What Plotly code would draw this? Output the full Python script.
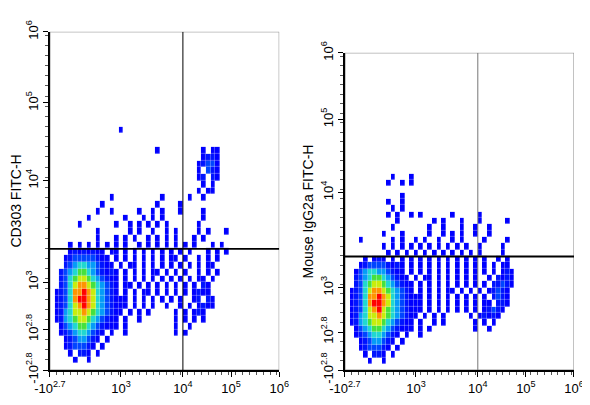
import numpy as np
import plotly.graph_objects as go

# density grid (rows listed from top, '.' = no events, 1..9 = density level)
# each cell spans 2 display units on a 0-100 biexponential display scale
left_rows = {
    35: "...............1",
    32: ".......................1.........1.11",
    31: ".................................1221",
    30: "................................12331",
    29: "................................1.321",
    28: "................................12.21",
    27: ".................................1.1",
    26: "................................1.11",
    25: ".............1..........1.....1..1",
    24: "...........1...........1....1......",
    23: "..........1..1.....1..1.1...1....1",
    22: "........1.......1...1.1.1........1.",
    21: "......1.......1..1.1.1.1.1......1...",
    20: "..........1......1.1..1..1.1....1.1...1",
    19: "..........1...1.1.1..1.1.1.1...1.1",
    18: "....1.1.1.1.1.1.1..1.1.1.1.1.1.1...1.1",
    17: "....12121211.11.1.1.1.1.1.1.1.1...1.1.1",
    16: "...1233333211.1.1.1.1.1.1.11.1..1.1.1",
    15: "...23455443211.1.11.1.1.1.1.1.1.1.11",
    14: "..2345665432121.1.1.1.11.1.1.1..1.1.1",
    13: "..2356776543211.1.1.1.1.1.1.1.1.11.1",
    12: "..2357887654321.11.1.1.1.1.1.1.1.21",
    11: ".12358898754321.1.1.11.1.1.1.1.1211",
    10: ".1235899875432111.1.1.1.1.1.1..12.21",
    9:  ".1235789875432111.1.1.1..1..1.1.1211",
    8:  ".124577876543211.1.1.1.....1.1.121",
    7:  ".12456776543211.1..1.......1.1.1.1",
    6:  "..1345665432111.1..........1..1",
    5:  "..1234554321.1..1..........1.1",
    4:  "...12344321.1",
    3:  "...1233321.1",
    2:  "....1.221.1",
    1:  ".....1..1",
}
right_rows = {
    30: "..........1...1",
    29: ".........1..1.1",
    27: "............1",
    26: ".........1..1.",
    25: "..........1.1",
    24: ".........1.1..1.1......1.....1",
    23: "...........1.......1.1...1...1.....1",
    22: "..........1.......1..1...1..1..1",
    21: "........1...1.....1..1.1.1..1..1",
    20: "...1......1.1..1.1..1..1.1....1....1",
    19: "........1.1.1.1.1.1.1.1.1.1..1....1",
    18: ".........1.1.1.1.1.1.1.1.1.1.1....1",
    17: "....1.121.1.1.1.1.1.1.1.1.1.1.1..1.1",
    16: "...1233332121.1.1.1.1.1.1.1.1.1.1.11",
    15: "..13455443211.1.1.1.1.1.1.1.1.1.1.121",
    14: "..234566543211.1.11.1.1.1.1.1..1.2121",
    13: "..2356776543211.1.1.1.1.1.1.1.1.22321",
    12: ".12357887654321.1.1.1.11.1.1.1.12321",
    11: ".1235889875432111.1.1.1.1.1.1.1.2321",
    10: ".1235899875432111.1.1.1.1.1.1.11.221",
    9:  ".1235789765432111.1.1.1.1.1.1.12321",
    8:  ".124577876543211.1.1.1.....1.12121",
    7:  ".12456776543211.1..1.1......1.1.1",
    6:  "..1345665432111.1.1.........1..1",
    5:  "..1234554321.1..1",
    4:  "...12344321.1",
    3:  "...1233321.1",
    2:  "....1.221.1",
    1:  ".....1..1",
}

x_tickvals = [0, 31, 58, 79, 100]
x_ticktext = ["-10<sup>2.7</sup>", "10<sup>3</sup>", "10<sup>4</sup>", "10<sup>5</sup>", "10<sup>6</sup>"]
y_tickvals = [0, 12, 26, 56, 79, 100]
y_ticktext = ["-10<sup>2.8</sup>", "10<sup>2.8</sup>", "10<sup>3</sup>", "10<sup>4</sup>", "10<sup>5</sup>", "10<sup>6</sup>"]
gate_x = 58
gate_y = 35.8


def to_grid(rows):
    z = np.full((50, 50), np.nan)
    for r, s in rows.items():
        for c, ch in enumerate(s):
            if ch != ".":
                z[r, c] = int(ch)
    return z


centers = np.arange(1, 100, 2)
cscale = [[0, "#0000ff"], [0.2, "#0020ff"], [0.35, "#0090ff"], [0.5, "#20d8d0"],
          [0.62, "#40e040"], [0.78, "#e8f000"], [0.88, "#ff9000"], [1, "#ff0000"]]

fig = go.Figure()
panels = [("x", "y", left_rows, [0.072, 0.466], [0.088, 0.940], "CD303 FITC-H"),
          ("x2", "y2", right_rows, [0.579, 0.9725], [0.088, 0.887], "Mouse IgG2a FITC-H")]

for i, (xa, ya, rows, xd, yd, title) in enumerate(panels):
    fig.add_trace(go.Heatmap(x=centers, y=centers, z=to_grid(rows), xaxis=xa, yaxis=ya,
                             colorscale=cscale, zmin=1, zmax=9, showscale=False,
                             xgap=0.3, ygap=0.3, hoverongaps=False))
    sfx = "" if i == 0 else "2"
    axis_common = dict(range=[0, 100], showgrid=False, zeroline=False, showline=True,
                       linecolor="black", linewidth=2, ticks="outside", ticklen=5,
                       tickcolor="black", automargin=False,
                       tickfont=dict(family="Liberation Sans", size=13, color="black"),
                       minor=dict(ticks="outside", ticklen=3, dtick=3, tickcolor="#555"))
    fig.update_layout(**{
        "xaxis" + sfx: dict(axis_common, domain=xd, anchor=ya, tickvals=x_tickvals, ticktext=x_ticktext),
        "yaxis" + sfx: dict(axis_common, domain=yd, anchor=xa, tickvals=y_tickvals, ticktext=y_ticktext,
                            tickangle=-90,
                            title=dict(text=title, standoff=2,
                                       font=dict(family="Liberation Sans", size=14, color="black"))),
    })
    # frame top/right and quadrant gates
    fig.add_shape(type="rect", xref=xa, yref=ya, x0=0, x1=100, y0=0, y1=100,
                  line=dict(color="#888", width=1))
    fig.add_shape(type="line", xref=xa, yref=ya, x0=gate_x, x1=gate_x, y0=0, y1=100,
                  line=dict(color="black" if i == 0 else "#777", width=1))
    fig.add_shape(type="line", xref=xa, yref=ya, x0=0, x1=100, y0=gate_y, y1=gate_y,
                  line=dict(color="black", width=1.8))

fig.update_layout(width=582, height=397, margin=dict(l=0, r=0, t=0, b=0),
                  plot_bgcolor="white", paper_bgcolor="white", showlegend=False)
fig.write_html("out.html")
